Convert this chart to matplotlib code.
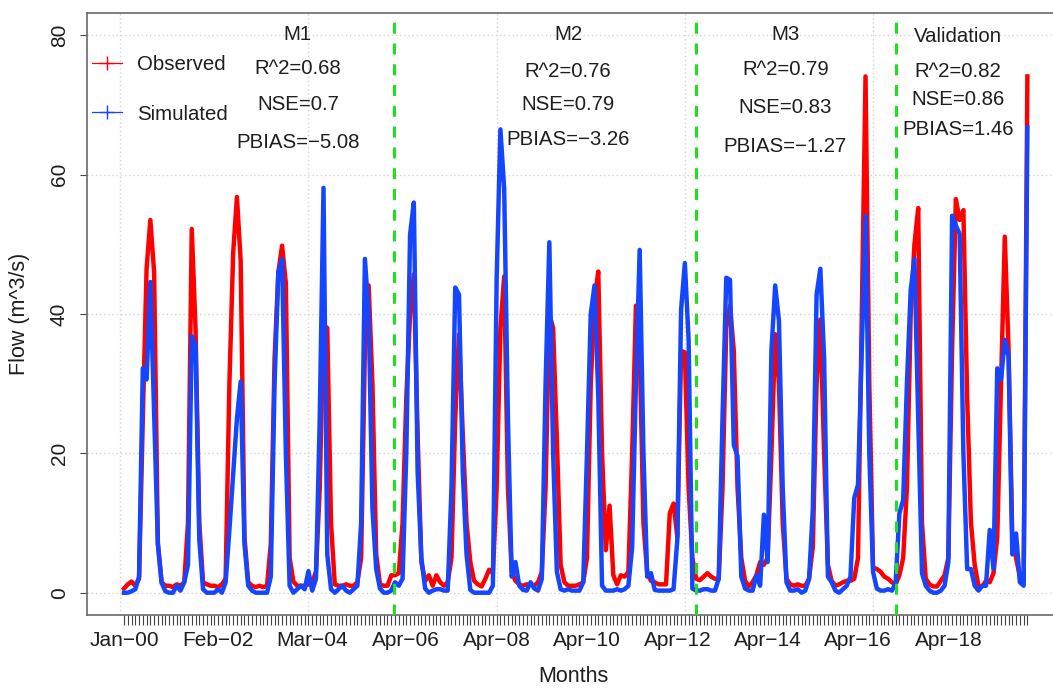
import matplotlib.pyplot as plt
from matplotlib.lines import Line2D

plt.rcParams['font.family'] = ['Liberation Sans', 'DejaVu Sans']

# monthly flow, Jan 2000 onwards (m^3/s)
observed = [
    0.6, 1.2, 1.6, 1.0, 2.0, 25.0, 46.5, 53.5, 46.0, 7.0, 1.5, 1.0,      # 2000
    1.0, 0.8, 1.2, 1.0, 1.5, 10.0, 52.2, 38.0, 10.0, 1.5, 1.2, 1.0,      # 2001
    1.0, 0.8, 1.2, 2.0, 30.0, 48.7, 56.8, 47.6, 8.0, 1.5, 1.0, 0.8,      # 2002
    1.0, 0.8, 1.0, 7.0, 33.6, 46.0, 49.8, 44.4, 5.0, 1.6, 1.0, 1.0,      # 2003
    1.0, 1.2, 1.5, 3.0, 15.0, 38.4, 38.0, 10.0, 1.2, 1.0, 1.0, 1.2,      # 2004
    1.0, 1.0, 1.5, 5.0, 35.0, 44.1, 30.0, 5.5, 1.2, 1.0, 1.0, 2.5,       # 2005
    2.5, 2.8, 10.0, 28.0, 40.0, 45.7, 22.8, 4.4, 1.7, 2.5, 1.0, 2.5,     # 2006
    1.5, 1.0, 1.5, 5.0, 25.0, 37.1, 22.8, 10.0, 4.4, 1.7, 1.2, 0.9,      # 2007
    2.0, 3.3, 2.8, 15.0, 38.0, 45.4, 15.0, 3.0, 1.7, 1.2, 1.0, 1.2,      # 2008
    1.2, 1.0, 1.5, 3.0, 15.0, 40.0, 38.0, 22.0, 4.0, 1.5, 1.0, 1.0,      # 2009
    1.0, 1.2, 1.5, 5.0, 30.0, 42.0, 46.1, 20.1, 6.1, 12.5, 2.5, 1.2,     # 2010
    2.5, 2.3, 3.0, 20.0, 41.2, 35.0, 10.0, 2.8, 1.7, 1.5, 1.2, 1.2,      # 2011
    1.2, 11.4, 12.8, 8.0, 34.7, 34.5, 15.0, 5.0, 2.0, 1.8, 2.3, 2.8,     # 2012
    2.3, 2.0, 2.0, 15.0, 38.0, 41.2, 34.7, 15.0, 5.0, 1.7, 0.9, 1.5,     # 2013
    2.5, 4.4, 4.0, 5.0, 20.0, 37.1, 30.0, 10.0, 2.0, 1.2, 1.0, 1.2,      # 2014
    1.0, 1.0, 2.0, 6.6, 30.0, 39.2, 20.0, 4.0, 1.7, 1.0, 1.2, 1.5,       # 2015
    1.7, 1.7, 2.0, 5.0, 40.0, 74.1, 30.0, 3.6, 3.4, 3.0, 2.3, 2.0,       # 2016
    1.5, 1.2, 2.5, 5.0, 15.0, 40.0, 50.0, 55.2, 10.0, 2.0, 1.2, 0.9,     # 2017
    0.9, 1.7, 2.5, 5.0, 35.0, 56.5, 53.5, 54.9, 28.0, 10.1, 4.0, 1.0,    # 2018
    0.9, 1.7, 1.5, 2.8, 8.0, 30.0, 51.1, 35.0, 7.6, 5.0, 2.3, 1.5,       # 2019
    74.1,
]

simulated = [
    0.0, 0.0, 0.2, 0.5, 2.3, 32.2, 30.6, 44.6, 26.0, 7.0, 1.4, 0.2,
    0.0, 0.0, 1.0, 0.3, 1.5, 4.0, 36.8, 35.5, 7.6, 0.5, 0.0, 0.0,
    0.0, 0.5, 0.0, 1.5, 9.0, 17.0, 25.0, 30.3, 7.0, 1.0, 0.3, 0.0,
    0.0, 0.0, 0.0, 2.3, 30.0, 46.0, 47.9, 20.0, 1.0, 0.0, 0.5, 1.0,
    0.5, 3.1, 0.3, 2.0, 25.0, 58.1, 5.5, 0.5, 0.0, 0.5, 1.0, 0.3,
    0.0, 0.5, 1.0, 10.0, 47.9, 40.0, 12.0, 3.4, 0.6, 0.0, 0.0, 0.3,
    1.5, 1.0, 2.0, 20.0, 51.4, 56.0, 17.4, 5.0, 0.6, 0.0, 0.3, 0.5,
    0.5, 0.3, 0.3, 15.0, 43.8, 42.8, 17.4, 5.5, 0.4, 0.0, 0.0, 0.0,
    0.0, 0.0, 1.0, 45.0, 66.5, 58.0, 25.0, 2.3, 4.4, 1.0, 0.4, 0.3,
    1.5, 0.6, 0.3, 2.0, 30.0, 50.3, 20.0, 3.0, 0.5, 0.3, 0.5, 0.3,
    0.3, 0.3, 1.5, 20.0, 40.0, 44.1, 28.2, 1.0, 0.3, 0.3, 0.3, 0.5,
    0.3, 0.5, 1.0, 6.5, 30.0, 49.2, 20.0, 2.3, 2.8, 0.4, 0.3, 0.3,
    0.3, 0.3, 0.5, 7.6, 40.6, 47.3, 36.3, 0.6, 0.3, 0.3, 0.5, 0.5,
    0.3, 0.3, 2.0, 25.0, 45.2, 44.9, 21.2, 19.6, 2.3, 0.6, 0.3, 0.3,
    2.5, 1.0, 11.2, 4.4, 34.7, 44.1, 39.0, 15.0, 1.5, 0.3, 0.3, 0.5,
    0.0, 0.3, 2.0, 12.0, 42.8, 46.5, 33.6, 2.3, 1.5, 0.3, 0.0, 0.5,
    1.0, 2.3, 13.6, 15.5, 35.0, 54.1, 20.0, 3.0, 0.6, 0.3, 0.3, 0.5,
    0.3, 1.4, 11.4, 13.3, 30.0, 43.4, 47.9, 25.0, 2.8, 1.0, 0.3, 0.0,
    0.0, 0.3, 1.0, 4.4, 54.1, 52.7, 51.5, 20.0, 3.4, 3.4, 1.0, 0.3,
    1.0, 1.0, 9.0, 3.4, 32.2, 30.6, 36.3, 33.9, 5.5, 8.5, 1.5, 1.0,
    66.8,
]

label_months = [0, 25, 50, 75, 99, 123, 147, 171, 195, 219]
label_text = ['Jan−00', 'Feb−02', 'Mar−04', 'Apr−06', 'Apr−08',
              'Apr−10', 'Apr−12', 'Apr−14', 'Apr−16', 'Apr−18']

# period boundaries (month index)
splits = [71.75, 152.0, 205.2]

periods = ['M1', 'M2', 'M3', 'Validation']
r2 = ['0.68', '0.76', '0.79', '0.82']
nse = ['0.7', '0.79', '0.83', '0.86']
pbias = ['−5.08', '−3.26', '−1.27', '1.46']

# where each block of stats sits (x in months, baselines in flow units)
stat_x = [46.2, 118.0, 175.7, 221.6]
stat_y = [
    [79.3, 74.4, 69.25, 63.8],
    [79.3, 74.0, 69.25, 64.2],
    [79.3, 74.3, 68.8, 63.3],
    [79.0, 74.0, 70.0, 65.7],
]

grid_x = [-1, 49, 99, 149, 199]
grid_y = [0, 20, 40, 60, 80]

RED = '#ff0000'
BLUE = '#1446ff'
GREEN = '#1ee01e'
TXT = '#1e1e1e'
FS = 14.7

fig = plt.figure(figsize=(10.53, 6.89), dpi=100)
ax = fig.add_axes([87 / 1053, 74 / 689, 972 / 1053, 602 / 689])

for gy in grid_y:
    ax.axhline(gy, color='#d3d3d3', lw=1, ls=(0, (1, 2)), zorder=1)
for gx in grid_x:
    ax.axvline(gx, color='#d3d3d3', lw=1, ls=(0, (1, 2)), zorder=1)

months = list(range(len(observed)))
ax.plot(months, observed, color=RED, lw=3.2, zorder=3)
ax.plot(months, simulated, color=BLUE, lw=3.2, zorder=4)

for s in splits:
    ax.axvline(s, color=GREEN, lw=2.2, ls=(0, (3.6, 3.2)), zorder=5)

for k, name in enumerate(periods):
    lines = [name, 'R^2=' + r2[k], 'NSE=' + nse[k], 'PBIAS=' + pbias[k]]
    for txt, yy in zip(lines, stat_y[k]):
        ax.text(stat_x[k], yy, txt, ha='center', va='baseline',
                fontsize=FS, color=TXT, zorder=6)

ax.set_xlim(-9.83, 248.4)
ax.set_ylim(-3.2, 83.2)

xt_labels = [''] * len(months)
for m, lab in zip(label_months, label_text):
    xt_labels[m] = lab
ax.set_xticks(months)
ax.set_xticklabels(xt_labels)
ax.tick_params(axis='x', length=7.2, width=0.8, pad=4, labelsize=15,
               color='#444444', labelcolor=TXT)

ax.set_yticks(grid_y)
ax.set_yticklabels([str(v) for v in grid_y], rotation=90, va='center')
ax.tick_params(axis='y', length=5, width=0.8, pad=8, labelsize=15,
               color='#444444', labelcolor=TXT)

ax.set_xlabel('Months', fontsize=15.5, color=TXT, labelpad=12)
ax.set_ylabel('Flow (m^3/s)', fontsize=15.5, color=TXT, labelpad=14)

for side in ['left', 'top', 'bottom']:
    ax.spines[side].set_color('#6a6a6a')
    ax.spines[side].set_linewidth(1.2)
ax.spines['right'].set_visible(False)

handles = [
    Line2D([], [], color=RED, lw=0.9, marker='+', markersize=10, mew=1),
    Line2D([], [], color=BLUE, lw=0.9, marker='+', markersize=10, mew=1),
]
ax.legend(handles, ['Observed', 'Simulated'], loc='upper left',
          bbox_to_anchor=(5 / 972, 0.930), frameon=False, fontsize=FS,
          handlelength=1.47, handletextpad=0.73, labelspacing=1.49,
          borderaxespad=0, borderpad=0, labelcolor=TXT)

fig.savefig('out.png', dpi=100)
